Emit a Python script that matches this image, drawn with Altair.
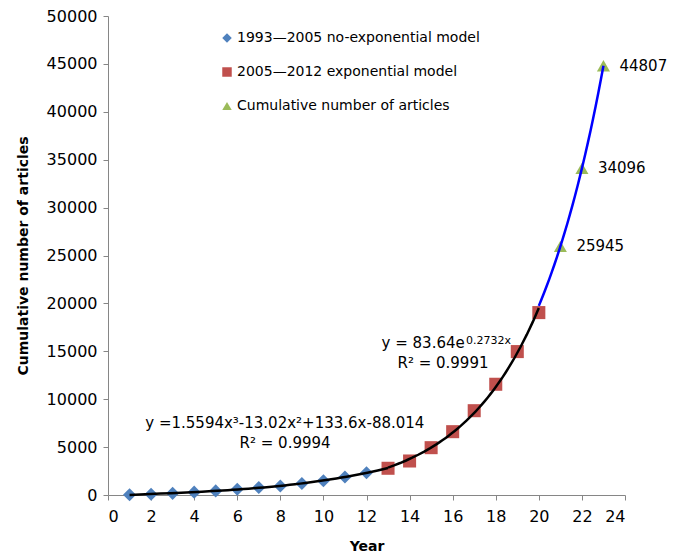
import altair as alt
import pandas as pd

# ---- data ----
years_poly = list(range(1, 13))
counts_poly = [30, 80, 170, 300, 430, 600, 780, 950, 1200, 1480, 1880, 2330]
years_exp = list(range(13, 21))
counts_exp = [2790, 3550, 4940, 6610, 8800, 11560, 14970, 19040]
years_cum = [21, 22, 23]
counts_cum = [25945, 34096, 44807]

series_names = [
    "1993\u20142005  no-exponential model",
    "2005\u20142012  exponential model",
    "Cumulative number of articles",
]
series_colors = ["#4F81BD", "#C0504D", "#9BBB59"]
series_shapes = ["diamond", "square", "triangle-up"]

# annotation texts
eq_poly = "y =1.5594x\u00b3-13.02x\u00b2+133.6x-88.014"
r2_poly = "R\u00b2 = 0.9994"
eq_exp_main = "y = 83.64e"
eq_exp_sup = "0.2732x"
r2_exp = "R\u00b2 = 0.9991"

FONT = "DejaVu Sans"

df_pts = pd.DataFrame({
    "year": years_poly + years_exp + years_cum,
    "count": counts_poly + counts_exp + counts_cum,
    "series": [series_names[0]] * len(years_poly)
    + [series_names[1]] * len(years_exp)
    + [series_names[2]] * len(years_cum),
})
df_poly = pd.DataFrame({"year": years_poly, "count": counts_poly})
df_exp = pd.DataFrame({"year": years_exp, "count": counts_exp})
df_cum = pd.DataFrame({"year": years_cum, "count": counts_cum})

xscale = alt.Scale(domain=[0, 24], nice=False)
yscale = alt.Scale(domain=[0, 50000], nice=False)

xaxis = alt.Axis(values=list(range(0, 25, 2)), title="Year", labelPadding=8,
                 titlePadding=15, format="d")
yaxis = alt.Axis(values=list(range(0, 50001, 5000)), title="Cumulative number of articles",
                 labelPadding=6, titlePadding=16, format="d")

legend = alt.Legend(orient="none", legendX=112, legendY=15, title=None,
                    labelFontSize=14, labelFont=FONT, labelColor="black",
                    symbolSize=90, rowPadding=20, labelLimit=400,
                    symbolStrokeWidth=0, labelOffset=3)

points = alt.Chart(df_pts).mark_point(filled=True, size=170, opacity=1).encode(
    x=alt.X("year:Q", scale=xscale, axis=xaxis),
    y=alt.Y("count:Q", scale=yscale, axis=yaxis),
    color=alt.Color("series:N", scale=alt.Scale(domain=series_names, range=series_colors),
                    legend=legend),
    shape=alt.Shape("series:N", scale=alt.Scale(domain=series_names, range=series_shapes),
                    legend=legend),
)

poly_line = alt.Chart(df_poly).transform_regression(
    "year", "count", method="poly", order=3, extent=[1, 13]
).mark_line(color="black", strokeWidth=2.5).encode(
    x=alt.X("year:Q", scale=xscale), y=alt.Y("count:Q", scale=yscale))

exp_line = alt.Chart(df_exp).transform_regression(
    "year", "count", method="exp", extent=[13, 20]
).mark_line(color="black", strokeWidth=2.5).encode(
    x=alt.X("year:Q", scale=xscale), y=alt.Y("count:Q", scale=yscale))

exp_fore = alt.Chart(df_cum).transform_regression(
    "year", "count", method="exp", extent=[20, 23]
).mark_line(color="#0000FF", strokeWidth=2.5).encode(
    x=alt.X("year:Q", scale=xscale), y=alt.Y("count:Q", scale=yscale))

labels = alt.Chart(df_cum).mark_text(align="left", baseline="middle", dx=16,
                                     fontSize=15, font=FONT, color="black").encode(
    x=alt.X("year:Q", scale=xscale), y=alt.Y("count:Q", scale=yscale),
    text=alt.Text("count:Q", format="d"))

ann_df = pd.DataFrame({
    "x": [1.73, 8.22, 12.70, 16.62, 15.55],
    "y": [6950, 4860, 15312, 15760, 13229],
    "t": [eq_poly, r2_poly, eq_exp_main, eq_exp_sup, r2_exp],
    "align": ["left", "center", "left", "left", "center"],
    "size": [15, 15, 15, 11, 15],
})

ann_layers = []
for al in ["left", "center"]:
    for sz in [15, 11]:
        sub = ann_df[(ann_df["align"] == al) & (ann_df["size"] == sz)]
        if len(sub) == 0:
            continue
        ann_layers.append(
            alt.Chart(sub).mark_text(align=al, baseline="alphabetic", fontSize=sz,
                                     font=FONT, color="black").encode(
                x=alt.X("x:Q", scale=xscale), y=alt.Y("y:Q", scale=yscale), text="t:N")
        )

chart = alt.layer(points, poly_line, exp_line, exp_fore, labels, *ann_layers).properties(
    width=517, height=479,
    autosize=alt.AutoSizeParams(type="none"),
    padding={"left": 100, "top": 8, "right": 50, "bottom": 62},
    background="white",
).configure_view(stroke=None).configure_axis(
    grid=False, domainColor="#868686", tickColor="#868686", tickSize=5,
    labelFont=FONT, labelFontSize=16, labelColor="black",
    titleFont=FONT, titleFontSize=14, titleFontWeight="bold", titleColor="black",
)

chart.save("out.html", embed_options={"renderer": "svg", "actions": False})
